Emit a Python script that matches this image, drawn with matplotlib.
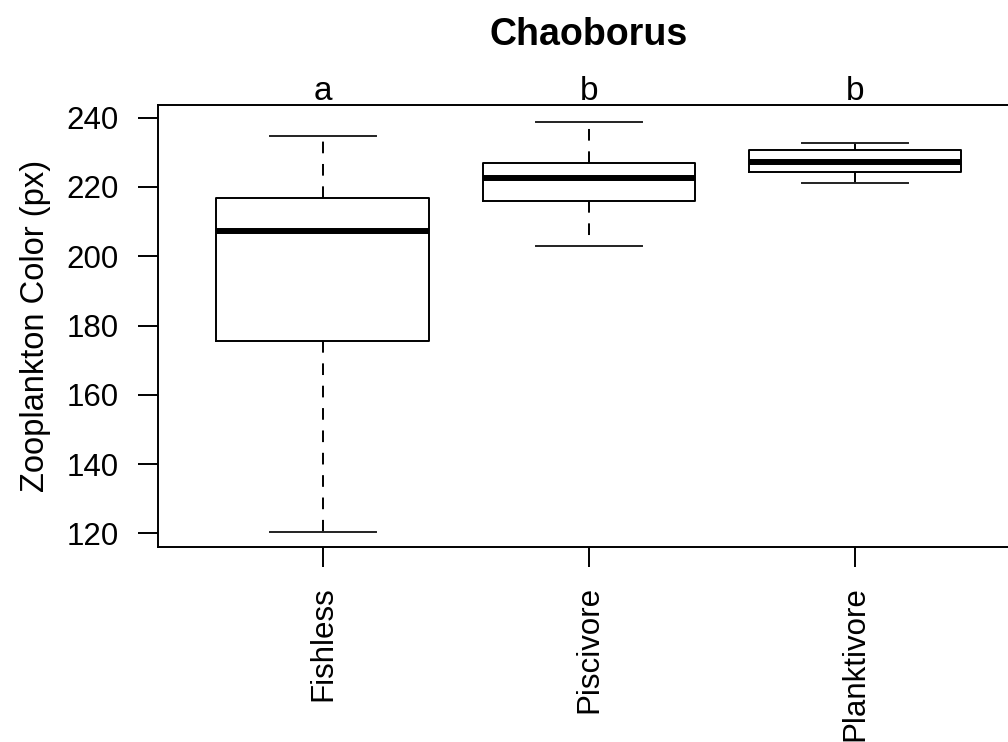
import matplotlib
matplotlib.use("Agg")
import matplotlib.pyplot as plt
from matplotlib.transforms import blended_transform_factory

plt.rcParams.update({"font.family": ["Liberation Sans", "DejaVu Sans"],
                     "font.size": 22.5})

# five-number summaries per fish treatment
groups = ["Fishless", "Piscivore", "Planktivore"]
whisker_low = [120.4, 203.0, 221.1]
q1 = [175.4, 216.0, 224.3]
median = [207.3, 222.5, 227.2]
q3 = [216.7, 227.0, 230.7]
whisker_high = [234.6, 238.9, 232.8]
letters = ["a", "b", "b"]
yticks = [120, 140, 160, 180, 200, 220, 240]

stats = [{"label": g, "whislo": lo, "q1": a, "med": m, "q3": b, "whishi": hi}
         for g, lo, a, m, b, hi in zip(groups, whisker_low, q1, median, q3, whisker_high)]

fig = plt.figure(figsize=(10.08, 7.42), dpi=100)
ax = fig.add_axes([0.1567, 0.2632, 0.8552, 0.5953])

lw = 1.4
ax.bxp(stats, positions=[1, 2, 3], widths=0.8, capwidths=0.4,
       showfliers=False, patch_artist=False,
       boxprops=dict(color="black", lw=lw),
       medianprops=dict(color="black", lw=4.3, solid_capstyle="butt"),
       whiskerprops=dict(color="black", lw=lw, linestyle=(0, (6, 5.5))),
       capprops=dict(color="#222222", lw=lw))

ax.set_xlim(0.38, 3.62)
ax.set_ylim(116.13, 243.67)
ax.set_yticks(yticks)
ax.set_xticks([1, 2, 3])
ax.set_xticklabels(groups, rotation=90, va="top", ha="center")
ax.tick_params(axis="both", length=14.4, width=lw, pad=14, direction="out")
for s in ax.spines.values():
    s.set_linewidth(lw)

ax.set_ylabel("Zooplankton Color (px)", fontsize=23.5, labelpad=11)
ax.set_title("Chaoborus", fontweight="bold", fontsize=27, pad=43)

# significance letters above each group
trans = blended_transform_factory(ax.transData, ax.transAxes)
for x, lab in zip([1, 2, 3], letters):
    ax.text(x, 1.0113, lab, transform=trans, ha="center", va="baseline",
            fontsize=24)

fig.savefig("out.png", dpi=100)
